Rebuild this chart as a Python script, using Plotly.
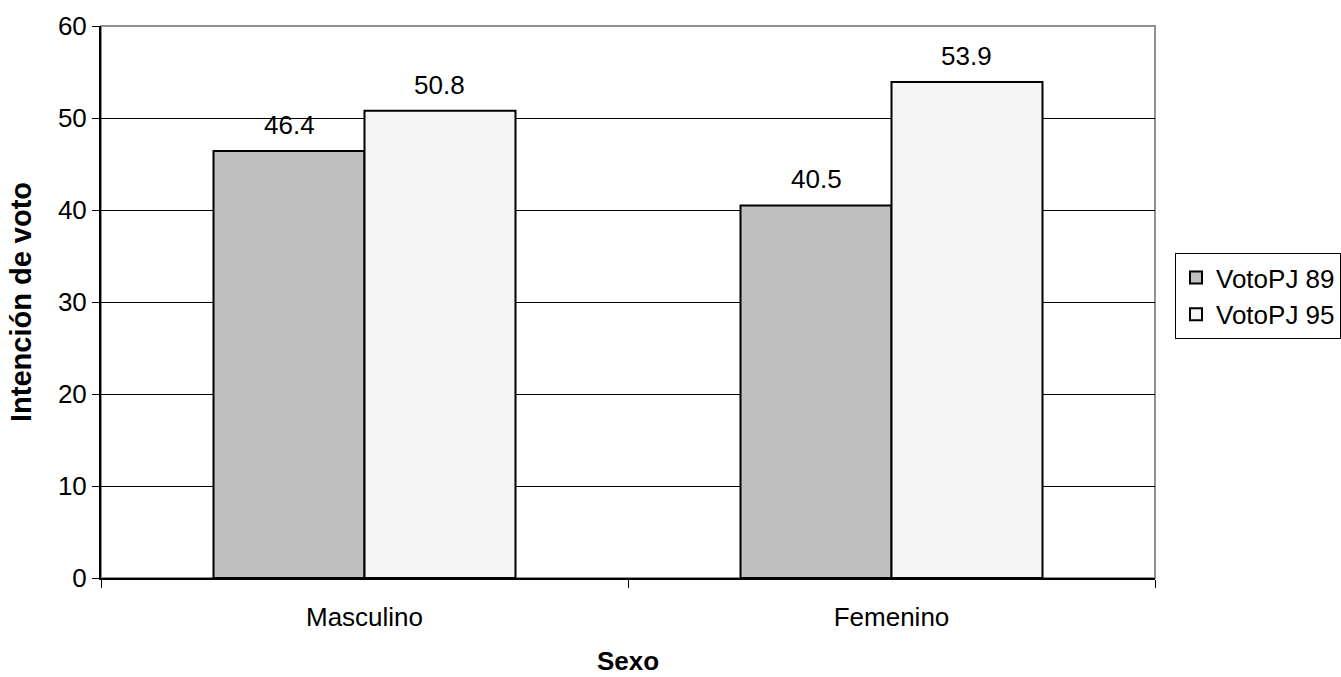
import plotly.graph_objects as go

categories = ["Masculino", "Femenino"]
series_names = ["VotoPJ 89", "VotoPJ 95"]
voto89 = [46.4, 40.5]
voto95 = [50.8, 53.9]
y_ticks = [0, 10, 20, 30, 40, 50, 60]

FONT = "Liberation Sans, Arial, sans-serif"
BARGAP = 0.427
half = (1 - BARGAP) / 4  # offset of each bar centre from category centre

fig = go.Figure()
fig.add_trace(go.Bar(x=categories, y=voto89, name=series_names[0],
                     marker=dict(color="#c0c0c0", line=dict(color="#000000", width=2))))
fig.add_trace(go.Bar(x=categories, y=voto95, name=series_names[1],
                     marker=dict(color="#f5f5f5", line=dict(color="#000000", width=2))))

for vals, off in ((voto89, -half), (voto95, half)):
    for i, v in enumerate(vals):
        fig.add_annotation(x=i + off, y=v, text=f"{v:.1f}", showarrow=False,
                           yshift=26, font=dict(size=26, color="#000", family=FONT))

fig.add_shape(type="rect", xref="paper", yref="paper", x0=0, y0=0, x1=1, y1=1,
              line=dict(color="#909090", width=2), layer="below")

fig.update_layout(
    width=1341, height=677,
    margin=dict(l=101, r=186, t=26, b=99, autoexpand=False),
    paper_bgcolor="white", plot_bgcolor="white",
    barmode="group", bargap=BARGAP, bargroupgap=0,
    font=dict(family=FONT, size=26, color="#000"),
    showlegend=True,
    legend=dict(xref="container", yref="container", x=1175 / 1341, y=1 - 296 / 677,
                xanchor="left", yanchor="middle",
                bordercolor="#000", borderwidth=1, bgcolor="white",
                font=dict(size=26, family=FONT), itemwidth=30, tracegroupgap=0),
    xaxis=dict(type="category", tickson="boundaries", ticks="outside", ticklen=8,
               tickcolor="#000", showline=True, linecolor="#000", linewidth=2,
               showgrid=False, ticklabelstandoff=15,
               title=dict(text="<b>Sexo</b>", font=dict(size=26), standoff=21),
               tickfont=dict(size=26), range=[-0.5, 1.5], automargin=False),
    yaxis=dict(range=[0, 60], tickvals=y_ticks, ticks="outside", ticklen=7,
               tickcolor="#000", showline=True, linecolor="#000", linewidth=2,
               showgrid=True, gridcolor="#000", gridwidth=1, zeroline=False,
               title=dict(text="<b>Intención de voto</b>", font=dict(size=29), standoff=18),
               tickfont=dict(size=26), automargin=False),
)

fig.write_html("out.html", config={"displayModeBar": False},
               post_script="document.body.style.margin='0';")
